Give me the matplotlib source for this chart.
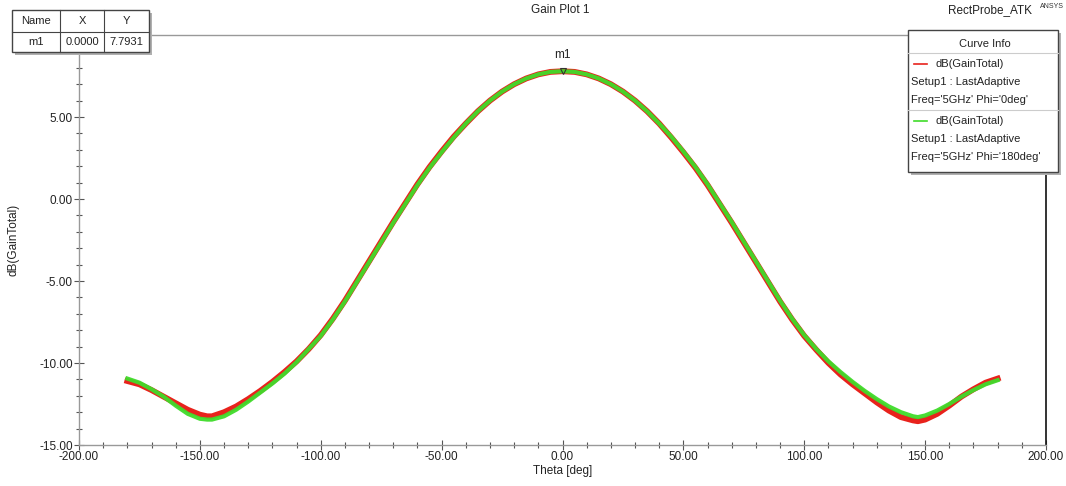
import numpy as np
import matplotlib.pyplot as plt
from matplotlib.patches import Rectangle
from matplotlib.lines import Line2D
from matplotlib.ticker import MultipleLocator, FormatStrFormatter

plt.rcParams['font.family'] = ['Liberation Sans', 'DejaVu Sans']

W, H = 1066, 486

# Theta [deg] and gain curves
theta = [-180, -175, -170, -165, -160, -155, -150, -147, -145, -140, -135, -130,
         -125, -120, -115, -110, -105, -100, -95, -90, -85, -80, -75, -70, -65,
         -60, -55, -50, -45, -40, -35, -30, -25, -20, -15, -10, -5, 0, 5, 10, 15,
         20, 25, 30, 35, 40, 45, 50, 55, 60, 65, 70, 75, 80, 85, 90, 95, 100,
         105, 110, 115, 120, 125, 130, 135, 140, 145, 147, 150, 155, 160, 165,
         170, 175, 180]
gain_phi0 = [-11.1, -11.3, -11.65, -12.05, -12.45, -12.85, -13.15, -13.25, -13.25,
             -13.0, -12.65, -12.2, -11.7, -11.15, -10.55, -9.9, -9.15, -8.3, -7.3,
             -6.2, -5.0, -3.8, -2.6, -1.4, -0.25, 0.9, 1.95, 2.9, 3.8, 4.6, 5.35,
             6.0, 6.55, 7.0, 7.35, 7.6, 7.75, 7.79, 7.75, 7.6, 7.35, 7.0, 6.55,
             6.0, 5.35, 4.6, 3.75, 2.85, 1.9, 0.85, -0.3, -1.45, -2.65, -3.85,
             -5.05, -6.25, -7.35, -8.35, -9.2, -10.0, -10.7, -11.3, -11.85, -12.4,
             -12.9, -13.3, -13.5, -13.55, -13.45, -13.1, -12.6, -12.05, -11.6,
             -11.2, -10.95]
gain_phi180 = [-10.95, -11.2, -11.6, -12.05, -12.6, -13.1, -13.4, -13.45, -13.45,
               -13.25, -12.85, -12.35, -11.8, -11.25, -10.65, -9.95, -9.15, -8.35,
               -7.35, -6.25, -5.05, -3.85, -2.65, -1.45, -0.3, 0.85, 1.9, 2.85,
               3.75, 4.6, 5.35, 6.0, 6.55, 7.0, 7.35, 7.6, 7.75, 7.79, 7.75, 7.6,
               7.35, 7.0, 6.55, 6.0, 5.35, 4.6, 3.8, 2.9, 1.95, 0.9, -0.25, -1.4,
               -2.6, -3.8, -5.0, -6.2, -7.3, -8.3, -9.15, -9.9, -10.55, -11.15,
               -11.7, -12.2, -12.65, -13.0, -13.25, -13.3, -13.2, -12.9, -12.5,
               -12.05, -11.65, -11.3, -11.05]

marker_name = 'm1'
marker_x = 0.0
marker_y = 7.7931

series_labels = ["Freq='5GHz' Phi='0deg'", "Freq='5GHz' Phi='180deg'"]
series_colors = ['#e8221c', '#3fdc2a']


def px(x, y):
    return x / W, 1 - y / H


fig = plt.figure(figsize=(W / 100, H / 100), dpi=100)
ax = fig.add_axes([79 / W, 1 - 445 / H, (1046 - 79) / W, (445 - 35) / H])

ax.plot(theta, gain_phi0, color=series_colors[0], lw=4.2, solid_joinstyle='round')
ax.plot(theta, gain_phi180, color=series_colors[1], lw=3.0, alpha=0.95,
        solid_joinstyle='round')

# marker m1
ax.plot([marker_x], [marker_y], marker='v', ms=4, mfc='none', mec='#333333', mew=0.8)
ax.annotate(marker_name, (marker_x, marker_y), xytext=(0, 7), textcoords='offset points',
            ha='center', va='bottom', fontsize=8.5, color='#222222')

ax.set_xlim(-200, 200)
ax.set_ylim(-15, 10)
ax.set_xticks(np.arange(-200, 201, 50))
ax.set_yticks(np.arange(-15, 6, 5))
ax.xaxis.set_minor_locator(MultipleLocator(10))
ax.yaxis.set_minor_locator(MultipleLocator(1))
ax.xaxis.set_major_formatter(FormatStrFormatter('%.2f'))
ax.yaxis.set_major_formatter(FormatStrFormatter('%.2f'))
ax.tick_params(which='major', direction='inout', length=7, width=0.8, color='#555555',
               labelsize=8.5, labelcolor='#222222', pad=1)
ax.tick_params(which='minor', direction='inout', length=4, width=0.8, color='#555555')

for s in ['left', 'bottom', 'top']:
    ax.spines[s].set_color('#999999')
    ax.spines[s].set_linewidth(1.0)
ax.spines['right'].set_color('#111111')
ax.spines['right'].set_linewidth(1.2)

ax.set_xlabel('Theta [deg]', fontsize=8.5, color='#222222', labelpad=1)
ax.set_ylabel('dB(GainTotal)', fontsize=8.5, color='#222222', labelpad=14)

# titles
fig.text(*px(560, 10), 'Gain Plot 1', fontsize=8.5, ha='center', va='center', color='#222222')
fig.text(*px(990, 10), 'RectProbe_ATK', fontsize=8.5, ha='center', va='center', color='#222222')
fig.text(*px(1040, 6), 'ANSYS', fontsize=5, ha='left', va='center', color='#333333')


def box(x0, y0, x1, y1, shadow=True, lw=1.0, ec='#444444'):
    if shadow:
        fig.patches.append(Rectangle(px(x0 + 3, y1 + 3), (x1 - x0) / W, (y1 - y0) / H,
                                     transform=fig.transFigure, fc='#b0b0b0', ec='none',
                                     zorder=9))
    fig.patches.append(Rectangle(px(x0, y1), (x1 - x0) / W, (y1 - y0) / H,
                                 transform=fig.transFigure, fc='white', ec=ec, lw=lw,
                                 zorder=10))


def hline(x0, x1, y, color='#444444', lw=0.8):
    fig.lines.append(Line2D([x0 / W, x1 / W], [1 - y / H, 1 - y / H],
                            transform=fig.transFigure, color=color, lw=lw, zorder=11))


def vline(x, y0, y1, color='#444444', lw=0.8):
    fig.lines.append(Line2D([x / W, x / W], [1 - y0 / H, 1 - y1 / H],
                            transform=fig.transFigure, color=color, lw=lw, zorder=11))


# marker table
box(12, 10, 149, 52)
hline(12, 149, 32)
vline(60, 10, 52)
vline(104, 10, 52)
tbl_cols = [36, 82, 126]
for cx, t in zip(tbl_cols, ['Name', 'X', 'Y']):
    fig.text(*px(cx, 21), t, fontsize=8, ha='center', va='center', color='#222222', zorder=12)
for cx, t in zip(tbl_cols, [marker_name, '%.4f' % marker_x, '%.4f' % marker_y]):
    fig.text(*px(cx, 42), t, fontsize=8, ha='center', va='center', color='#222222', zorder=12)

# curve info legend
box(908, 30, 1058, 172)
fig.text(*px(985, 44), 'Curve Info', fontsize=8, ha='center', va='center', color='#222222', zorder=12)
hline(908, 1058, 53, color='#cccccc')
hline(908, 1058, 110, color='#cccccc')
for i, (lab, col) in enumerate(zip(series_labels, series_colors)):
    y0 = 64 + i * 57
    hline(914, 927, y0, color=col, lw=1.2)
    fig.text(*px(935, y0), 'dB(GainTotal)', fontsize=8, ha='left', va='center',
             color='#222222', zorder=12)
    fig.text(*px(911, y0 + 18), 'Setup1 : LastAdaptive', fontsize=8, ha='left',
             va='center', color='#222222', zorder=12)
    fig.text(*px(911, y0 + 36), lab, fontsize=8, ha='left', va='center',
             color='#222222', zorder=12)

fig.savefig('out.png', dpi=100)
